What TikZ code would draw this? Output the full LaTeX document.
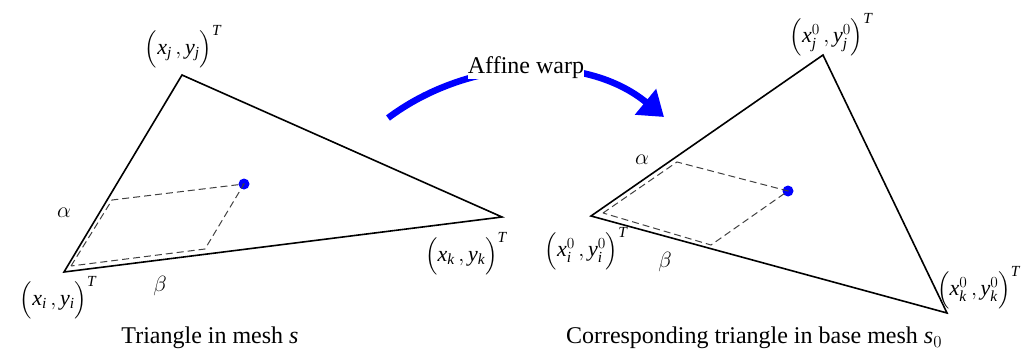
\documentclass[tikz,border=0pt]{standalone}
\usepackage{fix-cm}
\usepackage{amsmath}
\usepackage{fontspec}
\setmainfont{Liberation Serif}
\usetikzlibrary{arrows.meta}
\newcommand{\vx}{\mathit{x}}
\newcommand{\vy}{\mathit{y}}
\begin{document}
\begin{tikzpicture}[x=1pt,y=-1pt,
  tri/.style={draw=black,line width=1.6pt,line join=miter},
  par/.style={draw=black!75,line width=1pt,dash pattern=on 7pt off 4pt},
  pt/.style={circle,fill=blue,inner sep=0pt,minimum size=11pt},
  lab/.style={inner sep=1pt,font=\fontsize{22}{26}\selectfont},
  captext/.style={inner sep=1pt,font=\fontsize{24}{28}\selectfont},
  warp/.style={draw=blue,line width=6.5pt,-{Triangle[length=24pt,width=32pt]}}]
\useasboundingbox (0,0) rectangle (1023,356);
% left triangle
\coordinate (Li) at (64,272);
\coordinate (Lj) at (182,75);
\coordinate (Lk) at (502,217);
\draw[tri] (Li) -- (Lj) -- (Lk) -- cycle;
\node[pt] (Lp) at (244,184) {};
\coordinate (La) at (112,200);
\coordinate (Lb) at (205,249);
\coordinate (Lo) at (71,266);
\draw[par] (Lo) -- (La) -- (Lp.center) -- (Lb) -- cycle;
\node[lab] (Ljl) at (183,47) {$\Bigl(\vx_{\mathit{j}}\,,\vy_{\mathit{j}}\Bigr)^{\mathit{T}}$};
\node[lab] (Lil) at (58,298) {$\Bigl(\vx_{\mathit{i}}\,,\vy_{\mathit{i}}\Bigr)^{\mathit{T}}$};
\node[lab] (Lkl) at (466,254) {$\Bigl(\vx_{\mathit{k}}\,,\vy_{\mathit{k}}\Bigr)^{\mathit{T}}$};
\node[lab] (Lal) at (64,213) {$\alpha$};
\node[lab] (Lbl) at (160,286) {$\beta$};
\node[captext] (Lc) at (210,338) {Triangle in mesh \textit{s}};
% warp arrow
\coordinate (W1) at (388,118);
\coordinate (W2) at (664,117);
\draw[warp] (W1) .. controls (468,58) and (585,52) .. (W2);
\node[captext,fill=white,inner sep=0pt] (Wl) at (526,68) {Affine warp};
% right triangle
\coordinate (Ri) at (591,216);
\coordinate (Rj) at (823,55);
\coordinate (Rk) at (947,313);
\draw[tri] (Ri) -- (Rj) -- (Rk) -- cycle;
\node[pt] (Rp) at (788,191) {};
\coordinate (Ra) at (677,162);
\coordinate (Rb) at (711,245);
\coordinate (Ro) at (603,213);
\draw[par] (Ro) -- (Ra) -- (Rp.center) -- (Rb) -- cycle;
\node[lab] (Rjl) at (831,35) {$\Bigl(\vx^{0}_{\mathit{j}}\,,\vy^{0}_{\mathit{j}}\Bigr)^{\mathit{T}}$};
\node[lab] (Ril) at (586,249) {$\Bigl(\vx^{0}_{\mathit{i}}\,,\vy^{0}_{\mathit{i}}\Bigr)^{\mathit{T}}$};
\node[lab,anchor=west] (Rkl) at (936,288) {$\Bigl(\vx^{0}_{\mathit{k}}\,,\vy^{0}_{\mathit{k}}\Bigr)^{\mathit{T}}$};
\node[lab] (Ral) at (642,160) {$\alpha$};
\node[lab] (Rbl) at (665,262) {$\beta$};
\node[captext] (Rc) at (754,338) {Corresponding triangle in base mesh \textit{s}$_{0}$};
\end{tikzpicture}
\end{document}
